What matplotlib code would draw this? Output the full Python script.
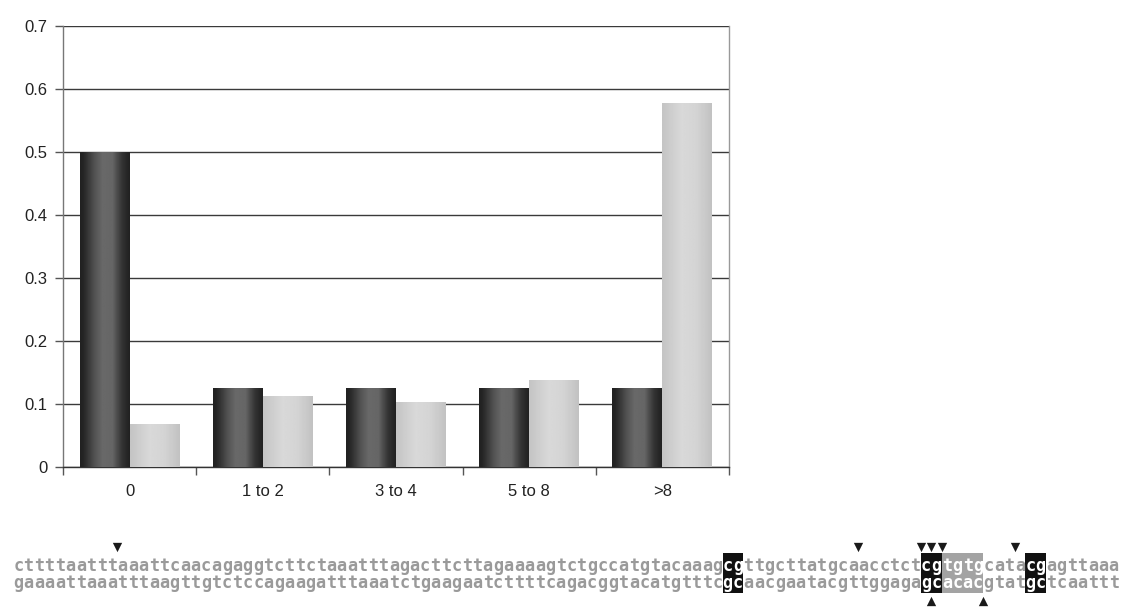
import numpy as np
import matplotlib
matplotlib.use("Agg")
import matplotlib.pyplot as plt
from matplotlib.ticker import FixedLocator, NullFormatter

# --- chart data ---
categories = ["0", "1 to 2", "3 to 4", "5 to 8", ">8"]
dark_vals = [0.5, 0.125, 0.125, 0.125, 0.125]
light_vals = [0.069, 0.113, 0.103, 0.138, 0.577]
yticks = [0, 0.1, 0.2, 0.3, 0.4, 0.5, 0.6, 0.7]
ytick_labels = ["0", "0.1", "0.2", "0.3", "0.4", "0.5", "0.6", "0.7"]

# --- sequence data ---
seq_top = ("cttttaatttaaattcaacagaggtcttctaaatttagacttcttagaaaagtctgccatgtacaaag"
           "cgttgcttatgcaacctctcgtgtgcatacgagttaaa")
seq_bot = ("gaaaattaaatttaagttgtctccagaagatttaaatctgaagaatcttttcagacggtacatgtttc"
           "gcaacgaatacgttggagagcacacgtatgctcaattt")
black_spans = [(68, 2), (87, 2), (97, 2)]   # (start, length)
gray_spans = [(89, 4)]
top_cuts = [10, 81, 87, 88, 89, 96]
bottom_cuts = [88, 93]

W, H = 1124, 607
fig = plt.figure(figsize=(W / 100, H / 100), dpi=100)
plt.rcParams["font.family"] = ["Liberation Sans", "DejaVu Sans"]


def grad_image(profile_x, profile_v):
    xs = np.linspace(0, 1, 64)
    v = np.interp(xs, profile_x, profile_v)
    return np.tile(v, (2, 1))


dark_img = grad_image([0, 0.07, 0.3, 0.45, 0.65, 0.85, 1.0],
                      [0.13, 0.15, 0.33, 0.41, 0.40, 0.20, 0.13])
light_img = grad_image([0, 0.4, 0.7, 1.0], [0.77, 0.85, 0.83, 0.76])

# --- bar chart ---
ax = fig.add_axes([63 / W, 1 - 467 / H, (729 - 63) / W, (467 - 26) / H])
x = np.arange(len(categories))
bw = 0.375
bars_d = ax.bar(x - bw / 2, dark_vals, bw, color="#333333", zorder=3)
bars_l = ax.bar(x + bw / 2, light_vals, bw, color="#d0d0d0", zorder=3)
for bars, img in ((bars_d, dark_img), (bars_l, light_img)):
    for b in bars:
        x0, y0 = b.get_x(), b.get_y()
        im = ax.imshow(img, cmap="gray", vmin=0, vmax=1, aspect="auto",
                       extent=(x0, x0 + b.get_width(), y0, y0 + b.get_height()),
                       interpolation="bilinear", zorder=4)
        im.set_clip_path(b)

ax.set_xlim(-0.5, len(categories) - 0.5)
ax.set_ylim(0, 0.7)
ax.set_yticks(yticks)
ax.set_yticklabels(ytick_labels)
ax.set_xticks(x)
ax.set_xticklabels(categories)
ax.xaxis.set_minor_locator(FixedLocator(np.arange(-0.5, len(categories), 1.0)))
ax.xaxis.set_minor_formatter(NullFormatter())
ax.tick_params(axis="x", which="major", length=0, pad=12, labelsize=12, colors="#222222")
ax.tick_params(axis="x", which="minor", length=6, width=1, color="#555555")
ax.tick_params(axis="y", length=6, width=1, color="#555555", pad=5,
               labelsize=12, labelcolor="#222222")
ax.grid(axis="y", color="#3a3a3a", linewidth=1, zorder=1)
ax.set_axisbelow(True)
ax.spines["top"].set_visible(False)
ax.spines["left"].set_color("#777777")
ax.spines["right"].set_color("#999999")
ax.spines["bottom"].set_color("#333333")
for s in ax.spines.values():
    s.set_linewidth(1)

# --- sequence panel (x in characters, y in pixels from top) ---
n = len(seq_top)
sx0, sx1 = 13, 1119
sax = fig.add_axes([sx0 / W, 0, (sx1 - sx0) / W, 1 - 535 / H])
sax.set_xlim(0, n)
sax.set_ylim(H, 535)
sax.axis("off")

y_top, y_bot = 566, 583
for s0, ln in black_spans:
    sax.add_patch(plt.Rectangle((s0, 553), ln, 40, color="#111111", lw=0))
for s0, ln in gray_spans:
    sax.add_patch(plt.Rectangle((s0, 553), ln, 40, color="#a3a3a3", lw=0))

hl = set()
for s0, ln in black_spans + gray_spans:
    hl.update(range(s0, s0 + ln))

for seq, yy in ((seq_top, y_top), (seq_bot, y_bot)):
    for i in range(n):
        col = "white" if i in hl else "#9a9a9a"
        sax.text(i + 0.5, yy, seq[i], ha="center", va="center",
                 family="DejaVu Sans Mono", weight="bold", fontsize=12.2, color=col)

sax.scatter(top_cuts, [547] * len(top_cuts), marker="v", s=45, color="#1a1a1a",
            linewidths=0, clip_on=False)
sax.scatter(bottom_cuts, [601] * len(bottom_cuts), marker="^", s=45, color="#1a1a1a",
            linewidths=0, clip_on=False)

fig.savefig("out.png", dpi=100, facecolor="white")
